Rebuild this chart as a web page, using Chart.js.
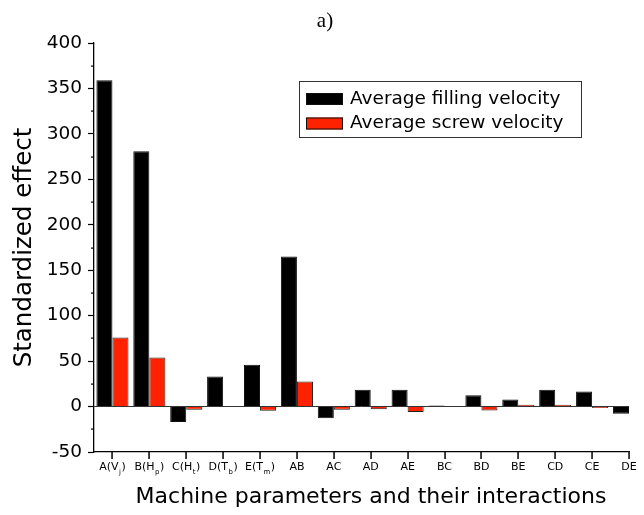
<!DOCTYPE html>
<html>
<head>
<meta charset="utf-8">
<script src="https://cdn.jsdelivr.net/npm/chart.js@4"></script>
<style>
  body { margin: 0; background: #fff; }
  #wrap { width: 644px; height: 515px; position: relative; }
</style>
</head>
<body>
<div id="wrap"><canvas id="effectChart"></canvas></div>
<script>
// data
const categories = ['A(V_j)', 'B(H_p)', 'C(H_t)', 'D(T_b)', 'E(T_m)', 'AB', 'AC', 'AD', 'AE', 'BC', 'BD', 'BE', 'CD', 'CE', 'DE'];
const fillingVelocity = [359, 281, -17, 33, 46, 165, -13, 18.5, 18.5, 1.2, 12.5, 7.7, 18.5, 16.5, -8];
const screwVelocity = [76, 54, -3.6, 0, -4.7, 27.5, -3.5, -3, -6, 0, -4.4, 2, 2, -1.5, -1];
const yTicks = [-50, 0, 50, 100, 150, 200, 250, 300, 350, 400];

const FONT = 'DejaVu Sans';
Chart.defaults.font.family = FONT;
Chart.defaults.color = '#000';

const toPoints = arr => arr.map((v, i) => ({ x: i, y: v }));

// extra drawing: title, x ticks + labels with subscripts, minor ticks, legend
const decorations = {
  id: 'decorations',
  afterDraw(chart) {
    const ctx = chart.ctx;
    const xs = chart.scales.x;
    const ys = chart.scales.y;
    const area = chart.chartArea;
    ctx.save();

    // panel title
    ctx.fillStyle = '#000';
    ctx.font = '21px "Liberation Serif"';
    ctx.textAlign = 'center';
    ctx.textBaseline = 'middle';
    ctx.fillText('a)', 325, 21);

    // minor y ticks
    for (let v = -25; v < 400; v += 50) {
      const y = Math.round(ys.getPixelForValue(v));
      ctx.fillRect(area.left - 3, y - 0.5, 3, 1.2);
    }

    // x tick marks at category centres
    const bottom = ys.getPixelForValue(-50);
    for (let i = 0; i < categories.length; i++) {
      const x = Math.round(xs.getPixelForValue(i));
      ctx.fillRect(x - 0.7, bottom, 1.5, 7);
    }

    // x category labels (with subscripts)
    ctx.textAlign = 'left';
    ctx.textBaseline = 'alphabetic';
    const mainFont = '11px "' + FONT + '"';
    const subFont = '7px "' + FONT + '"';
    categories.forEach((label, i) => {
      const cx = xs.getPixelForValue(i);
      const baseY = 470;
      const m = label.match(/^(.*)_(.)(\))$/);
      if (m) {
        ctx.font = mainFont;
        const w1 = ctx.measureText(m[1]).width;
        const w3 = ctx.measureText(m[3]).width;
        ctx.font = subFont;
        const w2 = ctx.measureText(m[2]).width + 1;
        let x = cx - (w1 + w2 + w3) / 2;
        ctx.font = mainFont;
        ctx.fillText(m[1], x, baseY);
        x += w1;
        ctx.font = subFont;
        ctx.fillText(m[2], x + 0.5, baseY + 4);
        x += w2;
        ctx.font = mainFont;
        ctx.fillText(m[3], x, baseY);
      } else {
        ctx.font = mainFont;
        const w = ctx.measureText(label).width;
        ctx.fillText(label, cx - w / 2, baseY);
      }
    });

    // x axis title
    ctx.font = '22px "' + FONT + '"';
    ctx.textAlign = 'center';
    ctx.textBaseline = 'middle';
    ctx.fillText('Machine parameters and their interactions', 371, 497);

    // legend
    ctx.fillStyle = '#fff';
    ctx.fillRect(299.5, 81.5, 282, 56);
    ctx.strokeStyle = '#333';
    ctx.lineWidth = 1;
    ctx.strokeRect(299.5, 81.5, 282, 56);
    ctx.font = '18.5px "' + FONT + '"';
    ctx.textAlign = 'left';
    chart.data.datasets.forEach((ds, k) => {
      const cy = 99 + k * 24.5;
      ctx.fillStyle = ds.backgroundColor;
      ctx.fillRect(306, cy - 6, 37, 12);
      ctx.strokeStyle = '#111';
      ctx.strokeRect(306.5, cy - 5.5, 36, 11);
      ctx.fillStyle = '#000';
      ctx.fillText(ds.label, 350, cy);
    });

    ctx.restore();
  }
};

new Chart(document.getElementById('effectChart'), {
  type: 'bar',
  data: {
    datasets: [
      {
        label: 'Average filling velocity',
        data: toPoints(fillingVelocity),
        backgroundColor: '#000000',
        borderColor: '#111',
        borderWidth: 1
      },
      {
        label: 'Average screw velocity',
        data: toPoints(screwVelocity),
        backgroundColor: '#ff2200',
        borderColor: '#222',
        borderWidth: 1
      }
    ]
  },
  options: {
    responsive: true,
    maintainAspectRatio: false,
    animation: false,
    datasets: { bar: { categoryPercentage: 0.87, barPercentage: 1.0 } },
    layout: { padding: { top: 43, right: 15, left: 0, bottom: 0 } },
    plugins: {
      legend: { display: false },
      tooltip: { enabled: false }
    },
    scales: {
      x: {
        type: 'linear',
        offset: false,
        min: -0.5,
        max: 14,
        afterBuildTicks: s => { s.ticks = categories.map((c, i) => ({ value: i })); },
        afterFit: s => { s.height = 63; },
        ticks: { display: false },
        grid: { offset: false, drawOnChartArea: false, drawTicks: false },
        border: { display: true, color: '#000', width: 1.3 }
      },
      y: {
        min: -50,
        max: 400,
        afterBuildTicks: s => { s.ticks = yTicks.map(v => ({ value: v })); },
        afterFit: s => { s.width = 94; },
        ticks: { font: { size: 18.5 }, color: '#000', padding: 6 },
        grid: {
          drawOnChartArea: true,
          color: c => (c.tick && c.tick.value === 0 ? '#333' : 'rgba(0,0,0,0)'),
          tickColor: '#000',
          tickLength: 6,
          tickWidth: 1.2,
          lineWidth: 1
        },
        border: { display: true, color: '#000', width: 1.3 },
        title: {
          display: true,
          text: 'Standardized effect',
          font: { size: 24.5 },
          color: '#000',
          padding: { top: 10, bottom: 0 }
        }
      }
    }
  },
  plugins: [decorations]
});
</script>
</body>
</html>
